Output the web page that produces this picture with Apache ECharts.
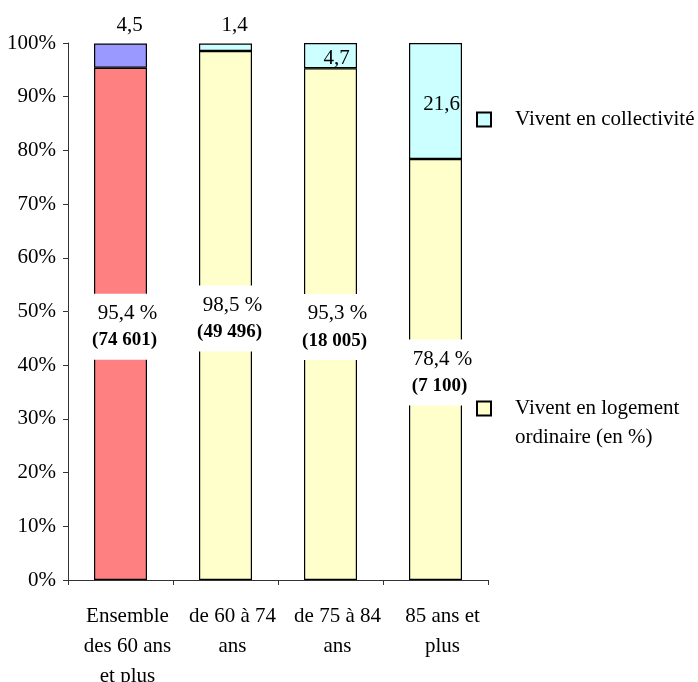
<!DOCTYPE html>
<html>
<head>
<meta charset="utf-8">
<script src="https://cdn.jsdelivr.net/npm/echarts@6/dist/echarts.min.js"></script>
<style>
  html, body { margin: 0; padding: 0; background: #fff; }
  #chart { width: 698px; height: 682px; }
</style>
</head>
<body>
<div id="chart"></div>
<script>
// Age groups on the x axis
const categories = ['Ensemble\ndes 60 ans\net plus', 'de 60 à 74\nans', 'de 75 à 84\nans', '85 ans et\nplus'];
// Share living in ordinary housing (%) and headcount
const logementPct = [95.4, 98.5, 95.3, 78.4];
const logementCount = ['74 601', '49 496', '18 005', '7 100'];
// Share living in collective housing (%)
const collectivitePct = [4.5, 1.4, 4.7, 21.6];
// Y axis ticks
const yTicks = { min: 0, max: 100, interval: 10 };

const SERIF = '"Liberation Serif", "Times New Roman", serif';
const FS = 21;
const fmt = v => String(v).replace('.', ',');

const nameColl = 'Vivent en collectivité';
const nameLog = 'Vivent en logement ordinaire (en %)';

const logData = logementPct.map((v, i) => {
  const item = { value: v };
  if (i === 0) item.itemStyle = { color: '#FF8080' };
  return item;
});

const collData = collectivitePct.map((v, i) => {
  const item = { value: v };
  if (i === 0) item.itemStyle = { color: '#9999FF' };
  if (i < 2) item.label = { position: 'top', distance: 8, offset: [9, 0] };
  return item;
});

const chart = echarts.init(document.getElementById('chart'));
chart.setOption({
  animation: false,
  textStyle: { fontFamily: SERIF, color: '#000' },
  grid: { left: 68, right: 210, top: 43, bottom: 102, outerBoundsMode: 'none', containLabel: false },
  legend: [
    {
      data: [nameColl],
      orient: 'vertical',
      left: 471, top: 104,
      itemWidth: 14, itemHeight: 14,
      icon: 'rect',
      textStyle: { fontFamily: SERIF, fontSize: FS, color: '#000', padding: [0, 0, 0, 19] }
    },
    {
      data: [nameLog],
      orient: 'vertical',
      left: 471, top: 360,
      itemWidth: 14, itemHeight: 14,
      icon: 'rect',
      // empty first line keeps the icon level with the first text line
      formatter: () => '\nVivent en logement\nordinaire (en %)',
      textStyle: { fontFamily: SERIF, fontSize: FS, color: '#000', lineHeight: 29, padding: [0, 0, 0, 19] }
    }
  ],
  xAxis: {
    type: 'category',
    data: categories,
    axisLine: { lineStyle: { color: '#333', width: 1 } },
    axisTick: { show: true, length: 5, lineStyle: { color: '#333' } },
    axisLabel: {
      fontFamily: SERIF, fontSize: FS, color: '#000',
      lineHeight: 30, margin: 21, padding: [0, 0, 0, 14], interval: 0
    }
  },
  yAxis: {
    type: 'value',
    min: yTicks.min, max: yTicks.max, interval: yTicks.interval,
    axisLine: { show: true, lineStyle: { color: '#333', width: 1 } },
    axisTick: { show: true, length: 5, lineStyle: { color: '#333' } },
    splitLine: { show: false },
    axisLabel: { formatter: '{value}%', fontFamily: SERIF, fontSize: FS, color: '#000', margin: 12 }
  },
  series: [
    {
      name: nameLog,
      type: 'bar',
      stack: 'total',
      barWidth: 53,
      data: logData,
      itemStyle: { color: '#FFFFCC', borderColor: '#000', borderWidth: 1.2 },
      label: {
        show: true,
        position: 'inside',
        offset: [4, 3],
        backgroundColor: '#fff',
        padding: [6, 10, 6, 10],
        formatter: p => '{a|' + fmt(p.value) + ' %}\n{b|(' + logementCount[p.dataIndex] + ')}',
        rich: {
          a: { fontFamily: SERIF, fontSize: FS, color: '#000', lineHeight: 27, padding: [0, 0, 0, 6] },
          b: { fontFamily: SERIF, fontSize: 19, fontWeight: 'bold', color: '#000', lineHeight: 27 }
        }
      }
    },
    {
      name: nameColl,
      type: 'bar',
      stack: 'total',
      barWidth: 53,
      data: collData,
      itemStyle: { color: '#CCFFFF', borderColor: '#000', borderWidth: 1.2 },
      label: {
        show: true,
        position: 'inside',
        offset: [6, 3],
        fontFamily: SERIF, fontSize: FS, color: '#000',
        formatter: p => fmt(p.value)
      }
    }
  ]
});
</script>
</body>
</html>
